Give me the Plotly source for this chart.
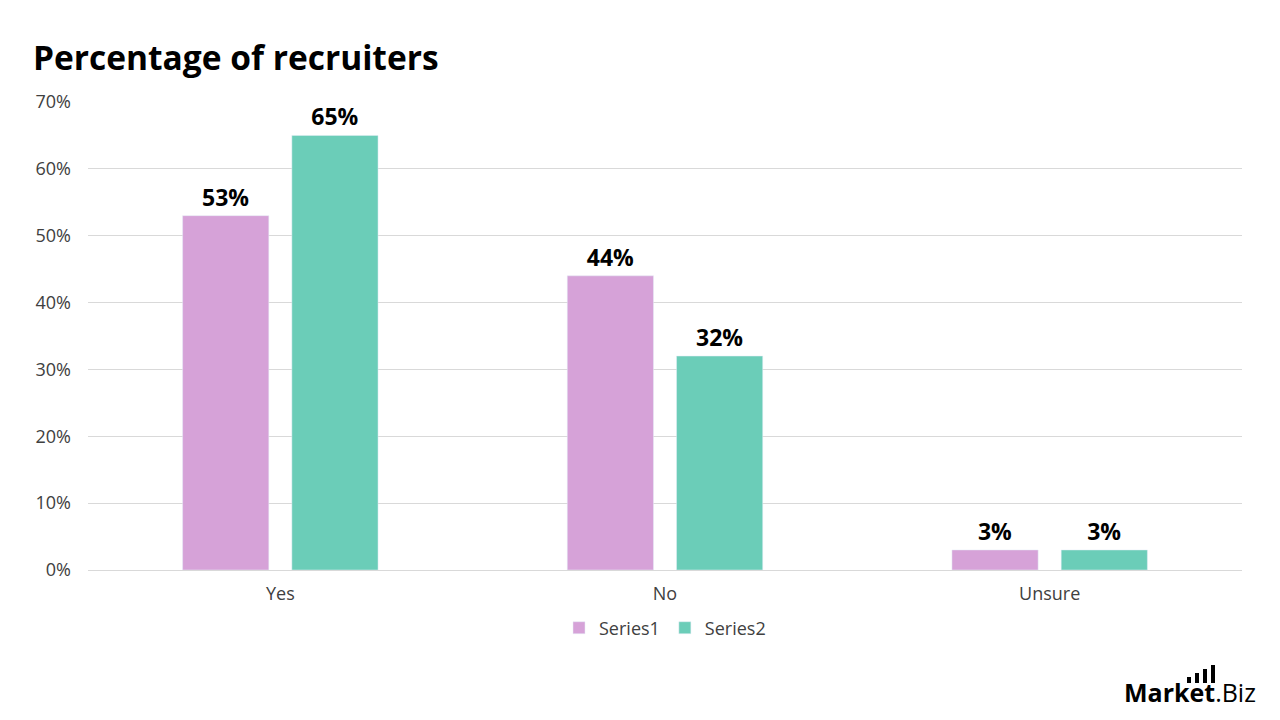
import plotly.graph_objects as go

categories = ["Yes", "No", "Unsure"]
series1 = [53, 44, 3]
series2 = [65, 32, 3]
series_names = ["Series1", "Series2"]
tick_vals = [0, 10, 20, 30, 40, 50, 60, 70]
tick_text = [f"{v}%" for v in tick_vals]

font_family = "Open Sans, Lato, DejaVu Sans, sans-serif"
tick_color = "#404040"

fig = go.Figure()
for name, vals, color in [(series_names[0], series1, "#D6A2D8"), (series_names[1], series2, "#6BCDB8")]:
    fig.add_trace(go.Bar(
        x=categories, y=vals, name=name, marker_color=color,
        text=[f"<b>{v}%</b>" for v in vals], textposition="outside",
        textfont=dict(size=23, color="#000000", family=font_family),
        cliponaxis=False,
    ))

fig.update_layout(
    width=1280, height=720,
    paper_bgcolor="white", plot_bgcolor="white",
    margin=dict(l=88, r=38, t=102, b=150),
    barmode="group", bargap=0.432, bargroupgap=0.211,
    title=dict(text="<b>Percentage of recruiters</b>", x=33/1280, xanchor="left",
               y=1-58/720, yanchor="middle",
               font=dict(size=33.5, color="#000000", family=font_family)),
    font=dict(family=font_family, color=tick_color, size=18),
    legend=dict(orientation="h", x=0.5, xanchor="center", y=-0.124, yanchor="middle",
                font=dict(size=18, color=tick_color), traceorder="normal"),
    showlegend=True,
)
fig.update_yaxes(range=[0, 70], tickvals=tick_vals, ticktext=tick_text,
                 showgrid=True, gridcolor="#D9D9D9", gridwidth=1,
                 zeroline=False, showline=False, ticks="", ticklabelstandoff=16,
                 tickfont=dict(size=18, color=tick_color))
fig.update_xaxes(showline=True, linecolor="#D9D9D9", linewidth=1, ticks="",
                 ticklabelstandoff=7,
                 tickfont=dict(size=18, color=tick_color))

pw = 1280 - 88 - 38
ph = 720 - 102 - 150
# logo
fig.add_annotation(text="<b>Market</b>.Biz", xref="paper", yref="paper",
                   x=(1258 - 88) / pw, y=(570 - 692) / ph, showarrow=False,
                   xanchor="right", yanchor="middle",
                   font=dict(size=25, color="#000000", family=font_family))
# small bars icon above logo
for x0, h in [(1187, 6), (1195, 10), (1203, 14), (1211, 18)]:
    fig.add_shape(type="rect", xref="paper", yref="paper",
                  x0=(x0 - 88) / pw, x1=(x0 + 4 - 88) / pw,
                  y0=(570 - 683) / ph, y1=(570 - 683 + h) / ph,
                  fillcolor="#000000", line_width=0)

fig.write_html("out.html")
